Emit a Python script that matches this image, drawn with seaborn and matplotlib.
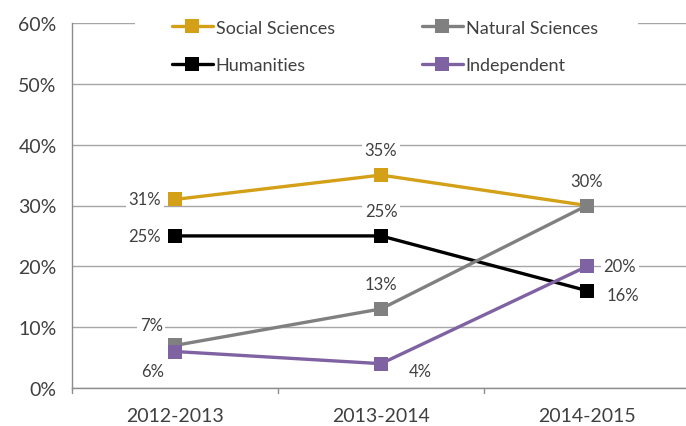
import matplotlib
matplotlib.use("Agg")
import matplotlib.pyplot as plt
import matplotlib.patches as mpatches
import seaborn as sns
import pandas as pd

years = ["2012-2013", "2013-2014", "2014-2015"]
series_names = ["Social Sciences", "Humanities", "Natural Sciences", "Independent"]
social = [31, 35, 30]
humanities = [25, 25, 16]
natural = [7, 13, 30]
independent = [6, 4, 20]
yticks = [0, 10, 20, 30, 40, 50, 60]
colors = ["#D4A017", "#000000", "#808080", "#7F62A2"]

values = {"Social Sciences": social, "Humanities": humanities,
          "Natural Sciences": natural, "Independent": independent}
rows = []
for name in series_names:
    for i, y in enumerate(years):
        rows.append({"year": y, "xi": i, "value": values[name][i], "series": name})
df = pd.DataFrame(rows)

sns.set_style("white")
plt.rcParams["font.family"] = ["Lato", "DejaVu Sans"]
txt = "#404040"

fig = plt.figure(figsize=(6.86, 4.27), dpi=100)
ax = fig.add_axes([72/686, 1-389/427, (690-72)/686, (389-24)/427])

sns.lineplot(data=df, x="xi", y="value", hue="series", hue_order=series_names,
             palette=colors, marker="s", markersize=10.5, markeredgewidth=0,
             linewidth=2.4, ax=ax, legend=True, zorder=3)

ax.set_xlim(-0.5, 2.5)
ax.set_ylim(0, 60)
ax.set_yticks(yticks)
ax.set_yticklabels([f"{v}%" for v in yticks], fontsize=14, color=txt)
ax.set_xticks(range(len(years)))
ax.set_xticklabels(years, fontsize=14, color=txt)
ax.set_xlabel("")
ax.set_ylabel("")
ax.grid(axis="y", color="#A6A6A6", linewidth=1)
ax.set_axisbelow(True)
for s in ["top", "right"]:
    ax.spines[s].set_visible(False)
for s in ["left", "bottom"]:
    ax.spines[s].set_color("#8C8C8C")
    ax.spines[s].set_linewidth(1)
ax.tick_params(axis="y", length=5, color="#8C8C8C", pad=6)
ax.tick_params(axis="x", length=0, pad=14)
# category boundary ticks
for b in [-0.5, 0.5, 1.5]:
    ax.plot([b, b], [0, -0.8], color="#8C8C8C", lw=1, clip_on=False)

# legend area background (interrupts the top gridline)
ax.add_patch(mpatches.Rectangle((135/686, 1-80/427), (638-135)/686, 70/427,
                                transform=fig.transFigure, fc="white", ec="none",
                                zorder=1, clip_on=False))

# data labels: (series, index, dx points, dy points, ha, va)
labels = [
    ("Social Sciences", 0, -10, 0, "right", "center"),
    ("Social Sciences", 1, 0, 12, "center", "bottom"),
    ("Natural Sciences", 2, 0, 12, "center", "bottom"),
    ("Humanities", 0, -10, 0, "right", "center"),
    ("Humanities", 1, 0, 12, "center", "bottom"),
    ("Humanities", 2, 14, -3, "left", "center"),
    ("Natural Sciences", 0, -17, 9, "center", "bottom"),
    ("Natural Sciences", 1, 0, 12, "center", "bottom"),
    ("Independent", 0, -16, -8, "center", "top"),
    ("Independent", 1, 20, -5, "left", "center"),
    ("Independent", 2, 12, 0, "left", "center"),
]
for name, i, dx, dy, ha, va in labels:
    v = values[name][i]
    ax.annotate(f"{v}%", (i, v), xytext=(dx, dy), textcoords="offset points",
                ha=ha, va=va, fontsize=12, color=txt, zorder=4,
                bbox=dict(boxstyle="square,pad=0.15", fc="white", ec="none"))

handles, labs = ax.get_legend_handles_labels()
leg = ax.legend(handles, labs, ncol=2, loc="upper left",
                bbox_to_anchor=(168/686, 1-17/427), bbox_transform=fig.transFigure,
                frameon=True, facecolor="white", edgecolor="none", framealpha=1,
                fontsize=13, handlelength=2.3, handletextpad=0.15,
                columnspacing=4.8, labelspacing=1.2, borderpad=0.2, borderaxespad=0)
for t in leg.get_texts():
    t.set_color(txt)
leg.set_zorder(5)

fig.savefig("out.png", dpi=100)
